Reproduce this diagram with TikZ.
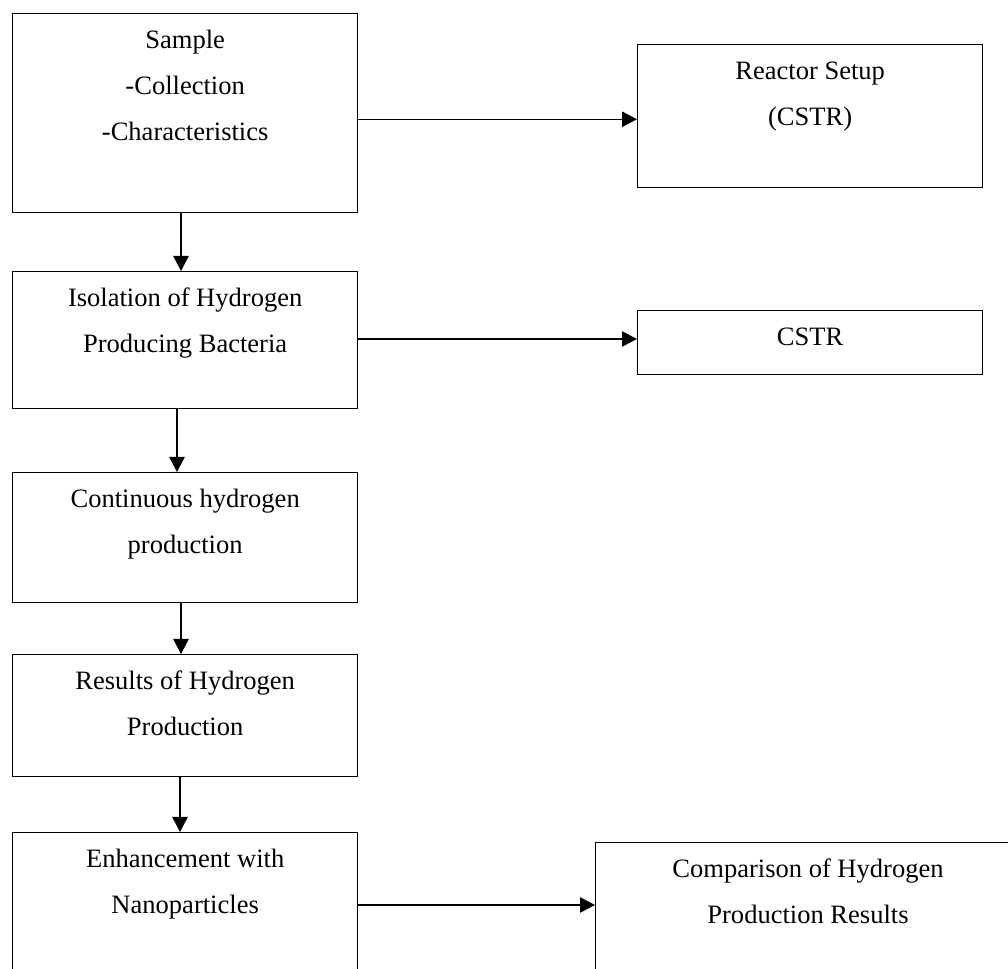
\documentclass[tikz,border=0pt]{standalone}
\usepackage{fontspec}
\setmainfont{Liberation Serif}
\usetikzlibrary{arrows.meta}
\begin{document}
\begin{tikzpicture}[x=0.75pt,y=-0.75pt,
  box/.style={draw=black, line width=1pt, rectangle, inner sep=0pt, anchor=north west},
  lbl/.style={align=center, anchor=north, inner sep=0pt, font=\fontsize{19.9pt}{34.5pt}\selectfont},
  arr/.style={line width=1.1pt, -{Triangle[length=11.25pt,width=11.5pt]}}]
\clip (0,0) rectangle (1008,969);
\fill[white] (0,0) rectangle (1008,969);
% boxes
\node[box, minimum width=258.75pt, minimum height=149.25pt] (s) at (12,13) {};
\node[box, minimum width=258.75pt, minimum height=107.25pt] (r) at (637,44) {};
\node[box, minimum width=258.75pt, minimum height=102.75pt] (iso) at (12,271) {};
\node[box, minimum width=258.75pt, minimum height=48pt] (cstr) at (637,310) {};
\node[box, minimum width=258.75pt, minimum height=97.5pt] (cont) at (12,472) {};
\node[box, minimum width=258.75pt, minimum height=91.5pt] (res) at (12,654) {};
\node[box, minimum width=258.75pt, minimum height=126pt] (enh) at (12,832) {};
\node[box, minimum width=319.5pt, minimum height=126pt] (cmp) at (595,842) {};
% labels
\node[lbl] (ts) at ([yshift=-2.1pt]s.north) {\strut Sample\\-Collection\\-Characteristics};
\node[lbl] (tr) at ([yshift=-2.1pt]r.north) {\strut Reactor Setup\\(CSTR)};
\node[lbl] (tiso) at ([yshift=-2.1pt]iso.north) {\strut Isolation of Hydrogen\\Producing Bacteria};
\node[lbl] (tcstr) at ([yshift=-2.1pt]cstr.north) {\strut CSTR};
\node[lbl] (tcont) at ([yshift=-2.1pt]cont.north) {\strut Continuous hydrogen\\production};
\node[lbl] (tres) at ([yshift=-2.1pt]res.north) {\strut Results of Hydrogen\\Production};
\node[lbl] (tenh) at ([yshift=-2.1pt]enh.north) {\strut Enhancement with\\Nanoparticles};
\node[lbl] (tcmp) at (808,844.8) {\strut Comparison of Hydrogen\\Production Results};
% helper coordinates for connector lines
\coordinate (h1) at (0,119.3);
\coordinate (h2) at (0,339);
\coordinate (h3) at (0,905);
\coordinate (v1) at (181,0);
\coordinate (v2) at (177,0);
\coordinate (v3) at (181,0);
\coordinate (v4) at (180,0);
% connectors
\draw[arr] (s.east |- h1) -- (r.west |- h1);
\draw[arr] (iso.east |- h2) -- (cstr.west |- h2);
\draw[arr] (enh.east |- h3) -- (cmp.west |- h3);
\draw[arr] (s.south -| v1) -- (iso.north -| v1);
\draw[arr] (iso.south -| v2) -- (cont.north -| v2);
\draw[arr] (cont.south -| v3) -- (res.north -| v3);
\draw[arr] (res.south -| v4) -- (enh.north -| v4);
\end{tikzpicture}
\end{document}
